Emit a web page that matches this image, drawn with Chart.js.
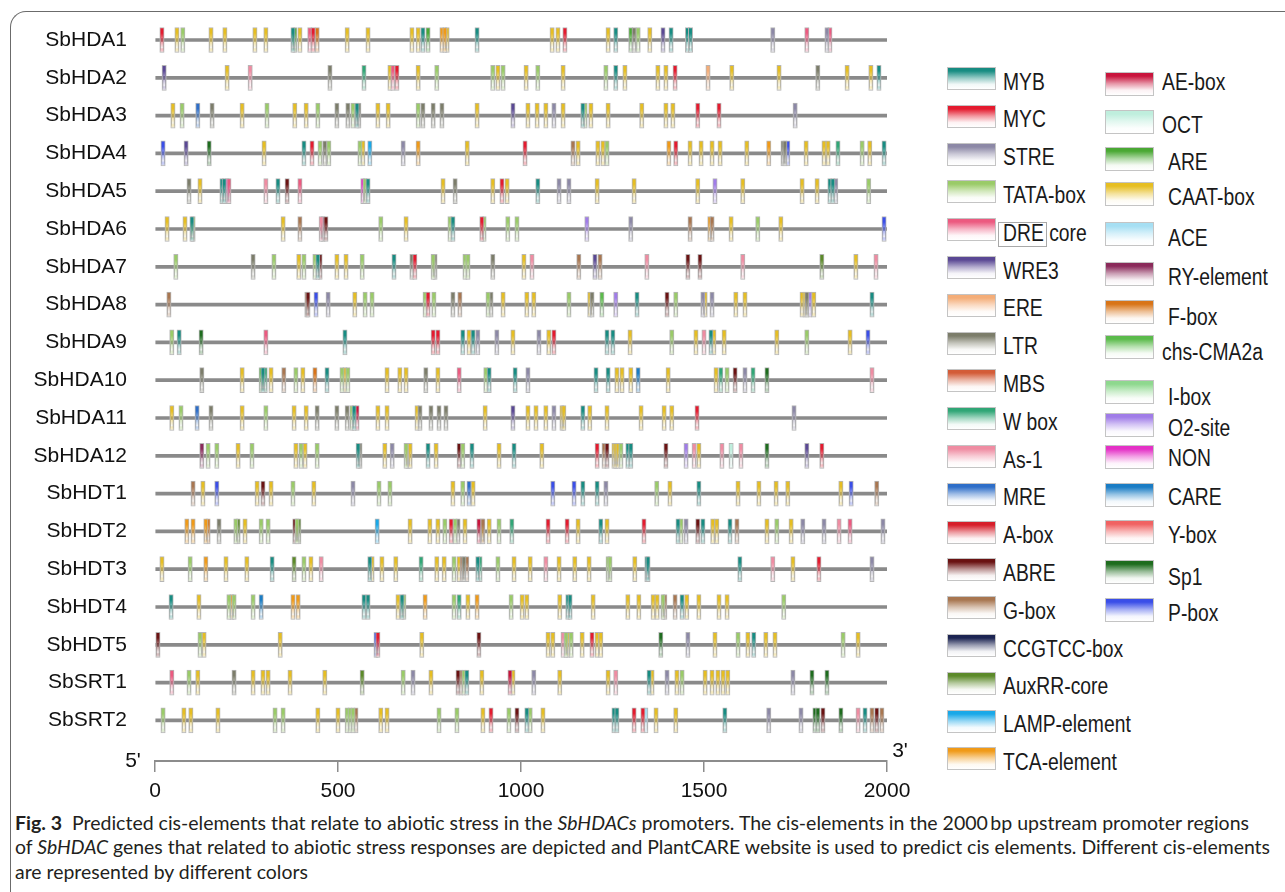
<!DOCTYPE html>
<html><head><meta charset="utf-8">
<script src="https://cdn.jsdelivr.net/npm/chart.js@4.4.1/dist/chart.umd.min.js"></script>
<style>
html,body{margin:0;padding:0;background:#fff;width:1285px;height:892px;overflow:hidden;position:relative;}
#frame{position:absolute;left:10px;top:11px;width:1320px;height:920px;border-left:1.5px solid #6b6b6b;border-top:1.5px solid #6b6b6b;border-top-left-radius:16px;box-sizing:border-box;}
#wrap{position:absolute;left:0;top:0;width:930px;height:811px;}
.sw{position:absolute;width:49px;border:1px solid #c4c4c4;box-sizing:border-box;}
.lb{position:absolute;color:#1a1a1a;white-space:nowrap;line-height:1;transform-origin:0 50%;}
.cap{position:absolute;left:15px;font-family:Lato,'Open Sans',sans-serif;font-size:19px;color:#231f20;white-space:nowrap;transform-origin:0 50%;line-height:1;}
.cap b{font-weight:700;}
#drebox{position:absolute;left:998px;top:222px;width:49px;height:25px;border:1px solid #a8a8a8;box-sizing:border-box;}
</style></head>
<body>
<div id="frame"></div>
<div id="wrap"><canvas id="c" width="930" height="811"></canvas></div>
<div id="legend"></div>
<div id="drebox"></div>
<div class="cap" id="cap1" style="top:813px"><b>Fig. 3</b>&nbsp;&nbsp;Predicted cis-elements that relate to abiotic stress in the <i>SbHDACs</i> promoters. The cis-elements in the 2000&#8201;bp upstream promoter regions</div>
<div class="cap" id="cap2" style="top:837px">of <i>SbHDAC</i> genes that related to abiotic stress responses are depicted and PlantCARE website is used to predict cis elements. Different cis-elements</div>
<div class="cap" id="cap3" style="top:862px">are represented by different colors</div>
<script>
// ---------------- data ----------------
const rows = ['SbHDA1','SbHDA2','SbHDA3','SbHDA4','SbHDA5','SbHDA6','SbHDA7','SbHDA8','SbHDA9','SbHDA10','SbHDA11','SbHDA12','SbHDT1','SbHDT2','SbHDT3','SbHDT4','SbHDT5','SbSRT1','SbSRT2'];
const xTicks = [0, 500, 1000, 1500, 2000];
const promoterLength = 2000;
const legendLeft = ['MYB','MYC','STRE','TATA-box','DRE core','WRE3','ERE','LTR','MBS','W box','As-1','MRE','A-box','ABRE','G-box','CCGTCC-box','AuxRR-core','LAMP-element','TCA-element'];
const legendRight = ['AE-box','OCT','ARE','CAAT-box','ACE','RY-element','F-box','chs-CMA2a','I-box','O2-site','NON','CARE','Y-box','Sp1','P-box'];
const CODE = {B:'MYB',C:'MYC',S:'STRE',T:'TATA-box',D:'DRE core',W:'WRE3',E:'ERE',L:'LTR',M:'MBS',Wb:'W box',As:'As-1',MRE:'MRE',Ab:'A-box',AB:'ABRE',Gb:'G-box',CC:'CCGTCC-box',Ax:'AuxRR-core',LA:'LAMP-element',TCA:'TCA-element',AE:'AE-box',OCT:'OCT',ARE:'ARE',Y:'CAAT-box',ACE:'ACE',RY:'RY-element',F:'F-box',chs:'chs-CMA2a',I:'I-box',O2:'O2-site',NON:'NON',CARE:'CARE',Yb:'Y-box',Sp1:'Sp1',P:'P-box'};

// element positions (bp) and element type code, per promoter
const SbHDA1 = [[19,'C'],[60,'Y'],[76,'T'],[153,'Y'],[191,'Y'],[273,'Y'],[303,'Y'],[377,'B'],[382,'ARE'],[396,'Y'],[423,'D'],[432,'C'],[443,'F'],[525,'Y'],[582,'Y'],[702,'Y'],[719,'Y'],[732,'B'],[746,'ARE'],[784,'TCA'],[792,'TCA'],[798,'Y'],[880,'B'],[1085,'Y'],[1101,'Y'],[1120,'C'],[1238,'Y'],[1259,'B'],[1300,'ARE'],[1309,'L'],[1320,'T'],[1352,'Y'],[1388,'W'],[1410,'B'],[1455,'B'],[1463,'B'],[1688,'S'],[1781,'D'],[1836,'S'],[1844,'D']];
const SbHDA2 = [[25,'W'],[197,'Y'],[260,'As'],[478,'L'],[571,'Wb'],[642,'Y'],[650,'D'],[661,'C'],[719,'Y'],[770,'T'],[923,'T'],[937,'Y'],[951,'T'],[1014,'Y'],[1046,'T'],[1115,'Y'],[1232,'T'],[1259,'B'],[1284,'Y'],[1374,'Y'],[1396,'Y'],[1421,'C'],[1511,'E'],[1576,'Y'],[1705,'Y'],[1811,'L'],[1891,'Y'],[1956,'Y'],[1978,'B']];
const SbHDA3 = [[49,'Y'],[74,'T'],[117,'MRE'],[156,'L'],[238,'Y'],[306,'T'],[382,'Y'],[413,'Y'],[445,'T'],[497,'L'],[527,'L'],[541,'T'],[552,'B'],[557,'L'],[609,'Y'],[637,'Y'],[719,'T'],[732,'L'],[760,'L'],[784,'L'],[880,'Y'],[978,'W'],[1019,'Y'],[1044,'Y'],[1068,'Y'],[1090,'S'],[1115,'Y'],[1169,'B'],[1175,'T'],[1191,'Y'],[1238,'Y'],[1330,'Y'],[1396,'Y'],[1415,'Y'],[1483,'C'],[1541,'C'],[1749,'S']];
const SbHDA4 = [[22,'P'],[85,'W'],[148,'Sp1'],[298,'Y'],[407,'B'],[429,'C'],[451,'T'],[464,'L'],[475,'T'],[560,'T'],[568,'Y'],[587,'LA'],[678,'S'],[719,'TCA'],[853,'Y'],[1011,'C'],[1142,'Gb'],[1156,'Y'],[1210,'Y'],[1224,'Y'],[1235,'T'],[1404,'TCA'],[1423,'C'],[1462,'Y'],[1492,'Y'],[1522,'Y'],[1544,'Y'],[1617,'Y'],[1677,'TCA'],[1716,'L'],[1721,'L'],[1729,'P'],[1779,'Y'],[1828,'Y'],[1839,'Y'],[1866,'Wb'],[1932,'T'],[1953,'Y'],[1992,'B']];
const SbHDA5 = [[93,'L'],[123,'Y'],[183,'B'],[189,'B'],[197,'NON'],[202,'D'],[303,'As'],[336,'B'],[361,'AB'],[396,'D'],[568,'NON'],[574,'T'],[582,'B'],[787,'Y'],[820,'L'],[923,'Y'],[948,'C'],[962,'Y'],[1046,'B'],[1104,'S'],[1131,'S'],[1208,'Y'],[1309,'Y'],[1483,'Y'],[1530,'O2'],[1606,'Y'],[1768,'Y'],[1809,'Y'],[1844,'B'],[1852,'B'],[1860,'S'],[1950,'T']];
const SbHDA6 = [[33,'Y'],[82,'Y'],[101,'B'],[104,'T'],[350,'Y'],[396,'Gb'],[454,'As'],[459,'RY'],[467,'AB'],[617,'T'],[686,'Y'],[806,'T'],[814,'B'],[893,'C'],[899,'T'],[964,'T'],[989,'T'],[1180,'O2'],[1300,'S'],[1462,'Gb'],[1516,'TCA'],[1522,'Gb'],[1574,'Y'],[1647,'T'],[1710,'Y'],[1992,'P']];
const SbHDA7 = [[57,'T'],[268,'L'],[325,'T'],[393,'Y'],[407,'T'],[437,'T'],[445,'B'],[451,'AB'],[497,'Y'],[522,'Y'],[566,'T'],[653,'B'],[702,'L'],[710,'C'],[760,'T'],[765,'L'],[847,'T'],[855,'T'],[923,'L'],[1008,'Y'],[1030,'As'],[1158,'Gb'],[1202,'W'],[1216,'Gb'],[1344,'As'],[1456,'AB'],[1489,'AB'],[1606,'As'],[1822,'Ax'],[1915,'Y'],[1970,'As']];
const SbHDA8 = [[38,'Gb'],[415,'Gb'],[418,'AB'],[440,'P'],[473,'S'],[546,'Y'],[574,'T'],[593,'T'],[738,'T'],[746,'C'],[762,'T'],[814,'L'],[833,'Gb'],[910,'T'],[918,'L'],[951,'Y'],[1016,'Y'],[1035,'Y'],[1131,'T'],[1188,'Y'],[1194,'L'],[1221,'chs'],[1259,'O2'],[1317,'B'],[1399,'AB'],[1423,'T'],[1497,'S'],[1503,'Y'],[1522,'S'],[1587,'Y'],[1612,'Y'],[1768,'Y'],[1776,'Y'],[1781,'L'],[1789,'O2'],[1800,'Y'],[1959,'B']];
const SbHDA9 = [[46,'T'],[66,'B'],[126,'Sp1'],[303,'D'],[519,'B'],[760,'C'],[773,'C'],[841,'B'],[858,'Y'],[869,'B'],[882,'S'],[934,'S'],[978,'Y'],[1049,'S'],[1076,'Y'],[1090,'C'],[1235,'B'],[1251,'B'],[1298,'Y'],[1412,'T'],[1478,'Y'],[1500,'As'],[1519,'B'],[1527,'Y'],[1555,'Y'],[1699,'Y'],[1781,'T'],[1899,'Y'],[1948,'P']];
const SbHDA10 = [[128,'L'],[238,'Y'],[290,'chs'],[295,'B'],[301,'Wb'],[317,'Y'],[352,'Gb'],[385,'T'],[404,'Y'],[437,'F'],[470,'B'],[511,'T'],[519,'Y'],[527,'T'],[634,'Y'],[669,'Y'],[686,'Y'],[740,'L'],[773,'Y'],[831,'D'],[904,'T'],[913,'B'],[984,'B'],[1019,'S'],[1205,'B'],[1238,'B'],[1262,'Y'],[1276,'Y'],[1300,'Y'],[1320,'CARE'],[1402,'Y'],[1533,'Y'],[1546,'Wb'],[1563,'T'],[1585,'AB'],[1612,'S'],[1634,'Wb'],[1672,'Sp1'],[1959,'As']];
const SbHDA11 = [[46,'Y'],[71,'T'],[115,'MRE'],[153,'L'],[238,'Y'],[303,'T'],[380,'Y'],[413,'Y'],[443,'L'],[497,'L'],[525,'L'],[538,'T'],[544,'B'],[552,'AE'],[609,'Y'],[634,'Y'],[716,'Y'],[724,'L'],[754,'L'],[776,'L'],[795,'L'],[902,'Y'],[978,'W'],[1019,'Y'],[1041,'Y'],[1068,'Y'],[1090,'S'],[1112,'Y'],[1117,'Y'],[1169,'B'],[1188,'Y'],[1235,'Y'],[1328,'Y'],[1391,'Y'],[1412,'Y'],[1481,'C'],[1746,'S']];
const SbHDA12 = [[128,'RY'],[145,'T'],[169,'T'],[227,'Y'],[265,'T'],[385,'Y'],[399,'T'],[410,'Y'],[443,'T'],[555,'B'],[560,'L'],[628,'Y'],[648,'S'],[686,'T'],[691,'Y'],[697,'Y'],[746,'B'],[768,'Y'],[831,'AB'],[841,'T'],[866,'B'],[940,'Y'],[981,'B'],[1057,'Y'],[1208,'C'],[1227,'Gb'],[1235,'AB'],[1254,'Y'],[1259,'Y'],[1265,'Y'],[1273,'T'],[1292,'B'],[1300,'B'],[1396,'AB'],[1451,'O2'],[1473,'As'],[1486,'Y'],[1549,'As'],[1574,'OCT'],[1601,'As'],[1672,'Sp1'],[1781,'W'],[1822,'C']];
const SbHDT1 = [[104,'Gb'],[131,'Y'],[169,'P'],[279,'Y'],[295,'AB'],[317,'Y'],[377,'T'],[434,'Y'],[541,'S'],[612,'T'],[642,'T'],[814,'Y'],[841,'T'],[858,'MRE'],[869,'Y'],[1087,'P'],[1145,'P'],[1169,'B'],[1208,'B'],[1232,'S'],[1371,'T'],[1407,'Y'],[1486,'B'],[1593,'Y'],[1650,'Y'],[1697,'Y'],[1729,'Y'],[1874,'Y'],[1902,'P'],[1972,'Gb']];
const SbHDT2 = [[87,'TCA'],[104,'TCA'],[139,'TCA'],[145,'F'],[175,'L'],[221,'T'],[227,'Ax'],[246,'Y'],[290,'T'],[309,'T'],[382,'AB'],[388,'T'],[393,'Ax'],[607,'LA'],[697,'Y'],[751,'Y'],[773,'Y'],[792,'T'],[809,'C'],[820,'T'],[828,'L'],[847,'Y'],[885,'AE'],[893,'Y'],[896,'Gb'],[913,'Y'],[940,'T'],[975,'Wb'],[1074,'C'],[1126,'C'],[1156,'Y'],[1218,'B'],[1235,'Y'],[1336,'C'],[1429,'B'],[1437,'T'],[1451,'S'],[1483,'AB'],[1497,'B'],[1524,'Y'],[1535,'Y'],[1571,'B'],[1590,'Gb'],[1672,'Y'],[1699,'T'],[1738,'Y'],[1770,'S'],[1828,'S'],[1869,'As'],[1899,'D'],[1989,'S']];
const SbHDT3 = [[19,'Y'],[96,'T'],[139,'TCA'],[194,'Y'],[251,'Y'],[320,'B'],[380,'Ax'],[407,'T'],[426,'Y'],[454,'As'],[587,'B'],[593,'Y'],[620,'Y'],[658,'Y'],[727,'Wb'],[770,'Y'],[790,'Y'],[817,'T'],[831,'Y'],[839,'Gb'],[844,'L'],[852,'Gb'],[882,'B'],[888,'Wb'],[937,'T'],[981,'Y'],[1025,'Y'],[1068,'As'],[1104,'Y'],[1147,'Y'],[1186,'Y'],[1238,'T'],[1243,'T'],[1311,'Y'],[1344,'B'],[1347,'B'],[1598,'B'],[1688,'As'],[1743,'Y'],[1814,'C'],[1959,'S']];
const SbHDT4 = [[44,'B'],[120,'Y'],[202,'T'],[210,'TCA'],[216,'T'],[268,'T'],[290,'CARE'],[377,'TCA'],[391,'TCA'],[571,'B'],[582,'B'],[664,'Y'],[675,'B'],[680,'T'],[738,'TCA'],[817,'T'],[831,'Wb'],[855,'Y'],[880,'TCA'],[973,'T'],[1003,'Y'],[1016,'Y'],[1106,'Y'],[1128,'B'],[1134,'B'],[1197,'Y'],[1292,'Y'],[1322,'Y'],[1361,'Y'],[1372,'Y'],[1388,'T'],[1393,'Gb'],[1421,'Gb'],[1440,'B'],[1453,'Y'],[1486,'Y'],[1541,'Y'],[1563,'Y'],[1718,'T']];
const SbHDT5 = [[8,'AB'],[123,'T'],[134,'Y'],[342,'Y'],[604,'P'],[609,'C'],[729,'Y'],[885,'AB'],[1074,'Y'],[1087,'Y'],[1115,'As'],[1123,'T'],[1128,'Y'],[1137,'T'],[1167,'Y'],[1194,'C'],[1208,'Y'],[1218,'Y'],[1382,'Sp1'],[1456,'S'],[1530,'Y'],[1593,'T'],[1620,'Y'],[1636,'B'],[1669,'Y'],[1694,'Y'],[1880,'T'],[1921,'Y']];
const SbSRT1 = [[46,'D'],[93,'T'],[117,'Y'],[216,'L'],[268,'Y'],[295,'Y'],[309,'Y'],[369,'Y'],[464,'Y'],[566,'Ax'],[678,'T'],[705,'S'],[754,'Y'],[828,'AB'],[836,'Gb'],[844,'T'],[852,'B'],[893,'Y'],[970,'AE'],[978,'Y'],[1035,'S'],[1106,'Y'],[1238,'Y'],[1259,'As'],[1350,'B'],[1358,'Y'],[1399,'S'],[1426,'Y'],[1440,'T'],[1503,'Y'],[1522,'Y'],[1538,'Y'],[1552,'Y'],[1565,'Y'],[1743,'S'],[1795,'Sp1'],[1836,'Sp1']];
const SbSRT2 = [[22,'T'],[79,'Y'],[98,'Y'],[172,'Y'],[328,'T'],[350,'T'],[445,'Y'],[500,'Y'],[525,'T'],[533,'T'],[541,'T'],[549,'Gb'],[617,'Y'],[634,'Y'],[776,'T'],[825,'T'],[896,'Y'],[918,'C'],[967,'T'],[989,'AB'],[1016,'B'],[1025,'T'],[1060,'Y'],[1254,'B'],[1262,'B'],[1309,'C'],[1333,'C'],[1341,'ACE'],[1369,'Y'],[1423,'Y'],[1557,'B'],[1677,'S'],[1765,'S'],[1803,'Sp1'],[1811,'Sp1'],[1825,'AB'],[1874,'Sp1'],[1921,'As'],[1940,'B'],[1959,'Gb'],[1972,'AB'],[1986,'Gb']];
const rowData = [SbHDA1,SbHDA2,SbHDA3,SbHDA4,SbHDA5,SbHDA6,SbHDA7,SbHDA8,SbHDA9,SbHDA10,SbHDA11,SbHDA12,SbHDT1,SbHDT2,SbHDT3,SbHDT4,SbHDT5,SbSRT1,SbSRT2];

// ---------------- styles ----------------
const COLORS = {'MYB':'#178c82','MYC':'#e41a2e','STRE':'#8c88a6','TATA-box':'#9acb68','DRE core':'#ec5a80','WRE3':'#5a4894','ERE':'#f4ad78','LTR':'#7c7d6a','MBS':'#d35c38','W box':'#30a676','As-1':'#ef8ca2','MRE':'#2e6ec8','A-box':'#d61e2a','ABRE':'#6a1212','G-box':'#a87650','CCGTCC-box':'#1c2452','AuxRR-core':'#5c8a2a','LAMP-element':'#19a8e8','TCA-element':'#f09a18','AE-box':'#c8143c','OCT':'#bfeedd','ARE':'#4aa834','CAAT-box':'#e6be22','ACE':'#a6dff3','RY-element':'#8a2a5a','F-box':'#d87418','chs-CMA2a':'#5bbb4b','I-box':'#8ed88e','O2-site':'#a07ce8','NON':'#e430c6','CARE':'#1a7cc4','Y-box':'#f06262','Sp1':'#1e6c1e','P-box':'#3a4ee8'};
const axisFont = {family:"'Liberation Sans', Arial, sans-serif", size:21};

function rgba(hex,a){const n=parseInt(hex.slice(1),16);return 'rgba('+(n>>16&255)+','+(n>>8&255)+','+(n&255)+','+a+')';}

// ---------------- legend (HTML) ----------------
const legend=document.getElementById('legend');
function addItem(name, swx, swy, swh, lx, ly){
  const c=COLORS[name];
  const s=document.createElement('div'); s.className='sw';
  s.style.left=swx+'px'; s.style.top=swy+'px'; s.style.height=swh+'px';
  s.style.background='linear-gradient(to bottom,'+c+' 0%,'+c+' 14%,'+rgba(c,0.45)+' 48%,'+rgba(c,0.06)+' 78%,#fff 100%)';
  legend.appendChild(s);
  const l=document.createElement('div'); l.className='lb'; l.textContent=name;
  l.style.fontFamily="'Liberation Sans',Arial,sans-serif"; l.style.fontSize='23px'; l.style.transform='scale(0.84,1.02)';
  l.style.left=lx+'px'; l.style.top=(ly-11.5)+'px';
  legend.appendChild(l);
}
legendLeft.forEach((n,i)=>addItem(n,947,67+37.8*i,23,1003,82+37.8*i));
const rC=[82,125,162,197,238,277,317,352,397,428,458,497,535,577,613];
const rS=[72,110,147,182,222,262,300,335,380,413,445,483,520,560,598];
legendRight.forEach((n,i)=>addItem(n,1105,rS[i],24,(n==='AE-box'||n==='OCT'||n==='chs-CMA2a')?1162:1168,rC[i]));

// ---------------- chart ----------------
const EW = 12; // element width in bp
function grad(ctx,col){
  const ch=ctx.chart;
  if(!ch.chartArea || !ctx.raw) return col;
  const yp=ch.scales.y.getPixelForValue(ctx.raw.y);
  const g=ch.ctx.createLinearGradient(0,yp-12.5,0,yp+12.5);
  g.addColorStop(0,col); g.addColorStop(0.22,col);
  g.addColorStop(0.5,rgba(col,0.5)); g.addColorStop(0.8,rgba(col,0.08)); g.addColorStop(1,'#ffffff');
  return g;
}
const datasets=[{
  label:'promoter',
  data: rows.map((r,i)=>({x:[0,promoterLength],y:i})),
  backgroundColor:'#8a8a8a', borderWidth:0, barThickness:3, order:2
}];
Object.keys(CODE).forEach(code=>{
  const name=CODE[code], col=COLORS[name];
  const data=[];
  rowData.forEach((arr,i)=>arr.forEach(e=>{ if(e[1]===code) data.push({x:[e[0]-EW/2,e[0]+EW/2],y:i}); }));
  if(!data.length) return;
  datasets.push({label:name,data,backgroundColor:(ctx)=>grad(ctx,col),borderColor:'#b6b6b6',borderWidth:1,borderSkipped:false,barThickness:25,order:0});
});

const primes={id:'primes',afterDraw(chart){
  const {ctx,scales:{x},chartArea}=chart;
  ctx.save(); ctx.fillStyle='#111'; ctx.font=axisFont.size+'px '+axisFont.family;
  ctx.textAlign='center'; ctx.textBaseline='middle';
  ctx.fillText("5'",x.getPixelForValue(0)-22,chartArea.bottom);
  ctx.fillText("3'",x.getPixelForValue(promoterLength)+13,chartArea.bottom-10);
  ctx.restore();
}};

new Chart(document.getElementById('c'),{
  type:'bar',
  data:{datasets},
  plugins:[primes],
  options:{
    indexAxis:'y', responsive:false, animation:false,
    datasets:{bar:{grouped:false}},
    layout:{padding:{top:21.1,right:43,left:0,bottom:0}},
    plugins:{legend:{display:false},tooltip:{enabled:false}},
    scales:{
      x:{type:'linear',min:0,max:promoterLength,offset:false,
        afterBuildTicks:(s)=>{s.ticks=xTicks.map(v=>({value:v}));},
        afterFit:(s)=>{s.height=50;s.paddingLeft=0;s.paddingRight=0;},
        grid:{display:true,offset:false,drawOnChartArea:false,drawTicks:true,tickLength:11,color:'#8c8c8c',lineWidth:1.5},
        border:{display:true,color:'#8c8c8c',width:2},
        ticks:{font:axisFont,color:'#111',padding:7,maxRotation:0,autoSkip:false,callback:(v)=>String(v)}
      },
      y:{type:'linear',reverse:true,min:-0.5,max:19.074,offset:false,
        afterBuildTicks:(s)=>{s.ticks=rows.map((_,i)=>({value:i}));},
        afterFit:(s)=>{s.width=155;s.paddingTop=0;s.paddingBottom=0;},
        grid:{display:false,offset:false,drawTicks:false},
        border:{display:false},
        ticks:{font:axisFont,color:'#111',padding:28,autoSkip:false,callback:(v)=>rows[v]}
      }
    }
  }
});

// ---------------- caption fitting ----------------
function fit(id,target){const el=document.getElementById(id);const w=el.getBoundingClientRect().width;const s=target/w;el.style.transform='scaleX('+s+')';return s;}
const s1=fit('cap1',1234); const s2=fit('cap2',1255);
document.getElementById('cap3').style.transform='scaleX('+s2+')';
</script>
</body></html>
